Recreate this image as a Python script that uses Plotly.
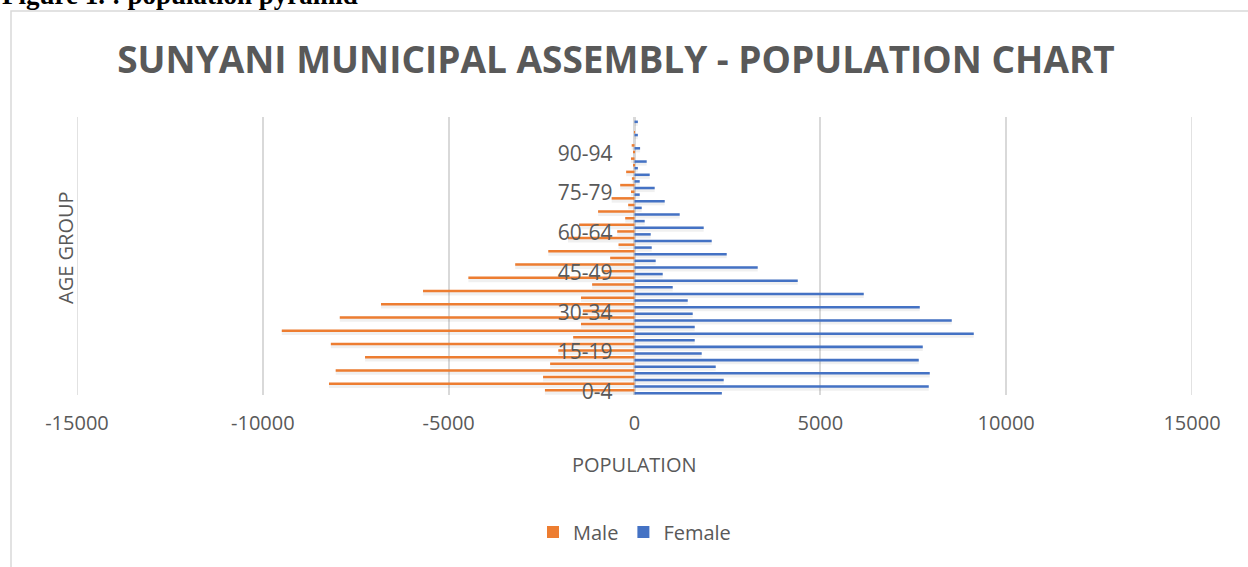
import plotly.graph_objects as go

# ---------------- data (rows from bottom to top) ----------------
age_groups = ["0-4", "5-9", "10-14", "15-19", "20-24", "25-29", "30-34", "35-39",
              "40-44", "45-49", "50-54", "55-59", "60-64", "65-69", "70-74",
              "75-79", "80-84", "85-89", "90-94", "95-99", "100+"]

male = [-2410, -8220, -2460, -8040, -2270, -7250, -2050, -8170, -1650, -9490,
        -1440, -7930, -1390, -6820, -1440, -5690, -1140, -4470, -840, -3210,
        -655, -2320, -430, -1790, -465, -1490, -250, -980, -170, -615,
        -95, -385, -70, -225, -30, -95, -25, -75, 0, -10, 0, 0]

female = [2350, 7917, 2400, 7944, 2185, 7648, 1808, 7756, 1620, 9128,
          1620, 8536, 1566, 7675, 1432, 6168, 1028, 4392, 759, 3315,
          570, 2481, 463, 2077, 436, 1862, 274, 1216, 194, 813,
          140, 543, 140, 409, 90, 328, 0, 150, 0, 90, 0, 90]

# each age group occupies a labelled row followed by an unlabelled row
row_labels = []
for g in age_groups:
    row_labels += [g, ""]

x_tickvals = [-15000, -10000, -5000, 0, 5000, 10000, 15000]
x_ticktext = ["-15000", "-10000", "-5000", "0", "5000", "10000", "15000"]

# ---------------- layout geometry ----------------
W, H = 1248, 567
ML, MR, MT, MB = 77, 56, 117, 172
PW, PH = W - ML - MR, H - MT - MB


def pxx(x):
    return (x - ML) / PW


def pxy(y):
    return (H - MB - y) / PH


rows = list(range(len(male)))
label_step = 6
tickvals = rows[::label_step]
ticktext = [row_labels[i] for i in tickvals]

MALE_C = "#ED7D31"
FEMALE_C = "#4472C4"
TXT = "#595959"
GRID = "#d9d9d9"
FONT = "Open Sans"

fig = go.Figure()

# soft drop shadows under the bars
for vals, off in ((male, -0.45), (female, -0.85)):
    fig.add_trace(go.Bar(y=rows, x=vals, orientation="h", width=0.8, offset=off,
                         marker=dict(color="rgba(0,0,0,0.06)", line=dict(width=0)),
                         showlegend=False, hoverinfo="skip"))

fig.add_trace(go.Bar(y=rows, x=male, orientation="h", name="Male",
                     width=0.38, offset=0.02,
                     marker=dict(color=MALE_C, line=dict(width=0))))
fig.add_trace(go.Bar(y=rows, x=female, orientation="h", name="Female",
                     width=0.38, offset=-0.42,
                     marker=dict(color=FEMALE_C, line=dict(width=0))))

annotations = [
    dict(text="<b>Figure 1. : population pyramid</b>", xref="paper", yref="paper",
         x=pxx(0), y=pxy(12), xanchor="left", yanchor="bottom", showarrow=False,
         font=dict(family="Liberation Serif", size=27, color="#000000")),
    dict(text="AGE GROUP", xref="paper", yref="paper", x=pxx(65), y=pxy(248),
         xanchor="center", yanchor="middle", textangle=-90, showarrow=False,
         font=dict(family=FONT, size=20, color=TXT)),
    dict(text="POPULATION", xref="paper", yref="paper", x=pxx(634.5), y=pxy(464),
         xanchor="center", yanchor="middle", showarrow=False,
         font=dict(family=FONT, size=20, color=TXT)),
]

# gridlines at the two ends of the value axis (plotly hides edge gridlines)
edge_lines = [dict(type="line", xref="x", yref="paper", x0=v, x1=v, y0=0, y1=1,
                   line=dict(color=GRID, width=1.5), layer="below")
              for v in (x_tickvals[0], x_tickvals[-1])]

fig.update_layout(
    width=W, height=H,
    margin=dict(l=ML, r=MR, t=MT, b=MB, pad=0),
    paper_bgcolor="white", plot_bgcolor="white",
    barmode="overlay",
    font=dict(family=FONT, color=TXT),
    title=dict(text="<b>SUNYANI MUNICIPAL ASSEMBLY - POPULATION CHART</b>",
               x=616 / W, xanchor="center", y=1 - 60 / H, yanchor="middle",
               font=dict(family=FONT, size=37, color=TXT)),
    xaxis=dict(range=[-15000, 15000], tickvals=x_tickvals, ticktext=x_ticktext,
               showgrid=True, gridcolor=GRID, gridwidth=1.5,
               zeroline=True, zerolinecolor=GRID, zerolinewidth=2.5,
               showline=False, ticks="", ticklabelstandoff=14,
               tickfont=dict(family=FONT, size=20, color=TXT)),
    yaxis=dict(range=[-0.5, len(rows) - 0.5], tickvals=tickvals, ticktext=ticktext,
               anchor="free", position=0.5, showgrid=False, zeroline=False,
               showline=False, ticks="", ticklabelstandoff=22,
               tickfont=dict(family=FONT, size=21, color=TXT)),
    legend=dict(orientation="h", x=0.5, xanchor="center", y=pxy(532), yanchor="middle",
                font=dict(family=FONT, size=20, color=TXT), traceorder="normal"),
    annotations=annotations,
    shapes=[dict(type="rect", xref="paper", yref="paper",
                 x0=pxx(11), y0=pxy(620), x1=pxx(1320), y1=pxy(11),
                 line=dict(color=GRID, width=1.5), fillcolor="rgba(0,0,0,0)",
                 layer="below")] + edge_lines,
)

fig.write_html("out.html")
